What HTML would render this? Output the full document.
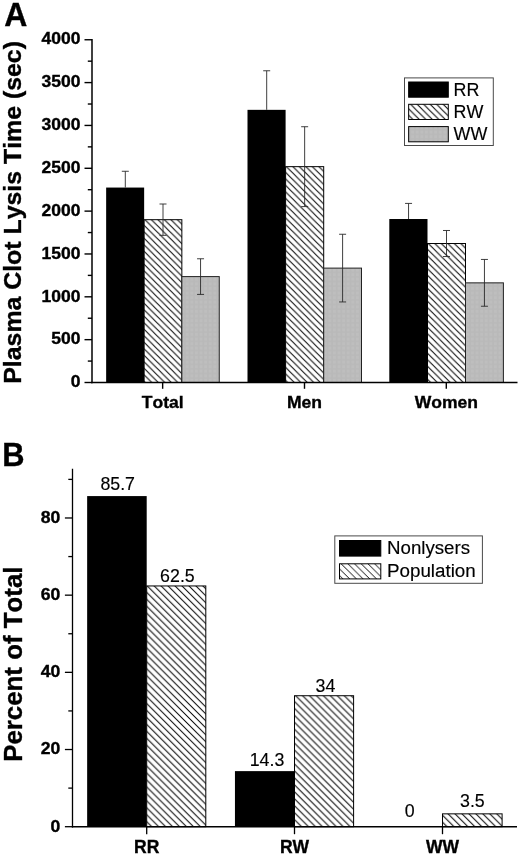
<!DOCTYPE html>
<html><head><meta charset="utf-8"><title>Figure</title>
<style>
html,body{margin:0;padding:0;background:#fff;}
body{width:520px;height:856px;overflow:hidden;font-family:"Liberation Sans",sans-serif;}
svg{display:block;will-change:transform;}
text{-webkit-font-smoothing:antialiased;}
</style></head><body>
<svg width="520" height="856" viewBox="0 0 520 856" font-family="'Liberation Sans', sans-serif" style="font-kerning:none">
<rect width="520" height="856" fill="#fff"/>
<defs>
<pattern id="gA" width="4.6" height="4.6" patternUnits="userSpaceOnUse">
<rect width="4.6" height="4.6" fill="#bebebe"/>
<rect width="1.8" height="4.6" fill="#b9b9b9"/>
<rect width="4.6" height="1.8" fill="#b9b9b9" opacity="0.8"/>
</pattern>
</defs>
<rect x="106.15" y="187.56" width="38.00" height="194.94" fill="#000" stroke="none" stroke-width="0"/>
<pattern id="h1" x="144.95" y="219.69" width="6.5" height="6.5" patternUnits="userSpaceOnUse"><rect width="6.5" height="6.5" fill="#fff"/><path d="M-1.625,-1.625 L8.125,8.125 M-1.625,4.875 L1.625,8.125 M4.875,-1.625 L8.125,1.625" stroke="#000" stroke-width="1.02" fill="none"/></pattern>
<rect x="144.15" y="219.69" width="37.70" height="162.81" fill="url(#h1)" stroke="#000" stroke-width="1.0"/>
<rect x="181.85" y="276.59" width="37.40" height="105.91" fill="url(#gA)" stroke="#222" stroke-width="1.0"/>
<line x1="125.30" y1="171.28" x2="125.30" y2="187.56" stroke="#2a2a2a" stroke-width="0.9"/>
<line x1="121.80" y1="171.28" x2="128.80" y2="171.28" stroke="#2a2a2a" stroke-width="0.9"/>
<line x1="163.00" y1="204.01" x2="163.00" y2="235.37" stroke="#2a2a2a" stroke-width="0.9"/>
<line x1="159.50" y1="204.01" x2="166.50" y2="204.01" stroke="#2a2a2a" stroke-width="0.9"/>
<line x1="159.50" y1="235.37" x2="166.50" y2="235.37" stroke="#2a2a2a" stroke-width="0.9"/>
<line x1="200.55" y1="258.77" x2="200.55" y2="294.41" stroke="#2a2a2a" stroke-width="0.9"/>
<line x1="197.05" y1="258.77" x2="204.05" y2="258.77" stroke="#2a2a2a" stroke-width="0.9"/>
<line x1="197.05" y1="294.41" x2="204.05" y2="294.41" stroke="#2a2a2a" stroke-width="0.9"/>
<rect x="247.50" y="109.84" width="38.10" height="272.66" fill="#000" stroke="none" stroke-width="0"/>
<pattern id="h2" x="286.40" y="166.65" width="6.5" height="6.5" patternUnits="userSpaceOnUse"><rect width="6.5" height="6.5" fill="#fff"/><path d="M-1.625,-1.625 L8.125,8.125 M-1.625,4.875 L1.625,8.125 M4.875,-1.625 L8.125,1.625" stroke="#000" stroke-width="1.02" fill="none"/></pattern>
<rect x="285.60" y="166.65" width="38.10" height="215.85" fill="url(#h2)" stroke="#000" stroke-width="1.0"/>
<rect x="323.70" y="268.11" width="37.80" height="114.39" fill="url(#gA)" stroke="#222" stroke-width="1.0"/>
<line x1="266.70" y1="70.77" x2="266.70" y2="109.84" stroke="#2a2a2a" stroke-width="0.9"/>
<line x1="263.20" y1="70.77" x2="270.20" y2="70.77" stroke="#2a2a2a" stroke-width="0.9"/>
<line x1="304.65" y1="126.72" x2="304.65" y2="206.58" stroke="#2a2a2a" stroke-width="0.9"/>
<line x1="301.15" y1="126.72" x2="308.15" y2="126.72" stroke="#2a2a2a" stroke-width="0.9"/>
<line x1="301.15" y1="206.58" x2="308.15" y2="206.58" stroke="#2a2a2a" stroke-width="0.9"/>
<line x1="342.60" y1="234.26" x2="342.60" y2="301.95" stroke="#2a2a2a" stroke-width="0.9"/>
<line x1="339.10" y1="234.26" x2="346.10" y2="234.26" stroke="#2a2a2a" stroke-width="0.9"/>
<line x1="339.10" y1="301.95" x2="346.10" y2="301.95" stroke="#2a2a2a" stroke-width="0.9"/>
<rect x="389.30" y="219.01" width="38.20" height="163.49" fill="#000" stroke="none" stroke-width="0"/>
<pattern id="h3" x="428.30" y="243.51" width="6.5" height="6.5" patternUnits="userSpaceOnUse"><rect width="6.5" height="6.5" fill="#fff"/><path d="M-1.625,-1.625 L8.125,8.125 M-1.625,4.875 L1.625,8.125 M4.875,-1.625 L8.125,1.625" stroke="#000" stroke-width="1.02" fill="none"/></pattern>
<rect x="427.50" y="243.51" width="38.00" height="138.99" fill="url(#h3)" stroke="#000" stroke-width="1.0"/>
<rect x="465.50" y="282.85" width="37.90" height="99.65" fill="url(#gA)" stroke="#222" stroke-width="1.0"/>
<line x1="408.55" y1="203.41" x2="408.55" y2="219.01" stroke="#2a2a2a" stroke-width="0.9"/>
<line x1="405.05" y1="203.41" x2="412.05" y2="203.41" stroke="#2a2a2a" stroke-width="0.9"/>
<line x1="446.50" y1="230.49" x2="446.50" y2="256.54" stroke="#2a2a2a" stroke-width="0.9"/>
<line x1="443.00" y1="230.49" x2="450.00" y2="230.49" stroke="#2a2a2a" stroke-width="0.9"/>
<line x1="443.00" y1="256.54" x2="450.00" y2="256.54" stroke="#2a2a2a" stroke-width="0.9"/>
<line x1="484.45" y1="259.45" x2="484.45" y2="306.24" stroke="#2a2a2a" stroke-width="0.9"/>
<line x1="480.95" y1="259.45" x2="487.95" y2="259.45" stroke="#2a2a2a" stroke-width="0.9"/>
<line x1="480.95" y1="306.24" x2="487.95" y2="306.24" stroke="#2a2a2a" stroke-width="0.9"/>
<line x1="92.00" y1="39.05" x2="92.00" y2="383.20" stroke="#000" stroke-width="1.5"/>
<line x1="91.25" y1="382.50" x2="517.50" y2="382.50" stroke="#000" stroke-width="1.5"/>
<line x1="84.50" y1="382.50" x2="92.00" y2="382.50" stroke="#000" stroke-width="1.4"/>
<text transform="translate(80.40,387.20) scale(1.075,1.0)" font-size="16.3" font-weight="bold" text-anchor="end" fill="#000" stroke="#000" stroke-width="0.35">0</text>
<line x1="87.80" y1="361.08" x2="92.00" y2="361.08" stroke="#000" stroke-width="1.4"/>
<line x1="84.50" y1="339.66" x2="92.00" y2="339.66" stroke="#000" stroke-width="1.4"/>
<text transform="translate(80.40,344.36) scale(1.075,1.0)" font-size="16.3" font-weight="bold" text-anchor="end" fill="#000" stroke="#000" stroke-width="0.35">500</text>
<line x1="87.80" y1="318.23" x2="92.00" y2="318.23" stroke="#000" stroke-width="1.4"/>
<line x1="84.50" y1="296.81" x2="92.00" y2="296.81" stroke="#000" stroke-width="1.4"/>
<text transform="translate(80.40,301.51) scale(1.075,1.0)" font-size="16.3" font-weight="bold" text-anchor="end" fill="#000" stroke="#000" stroke-width="0.35">1000</text>
<line x1="87.80" y1="275.39" x2="92.00" y2="275.39" stroke="#000" stroke-width="1.4"/>
<line x1="84.50" y1="253.97" x2="92.00" y2="253.97" stroke="#000" stroke-width="1.4"/>
<text transform="translate(80.40,258.67) scale(1.075,1.0)" font-size="16.3" font-weight="bold" text-anchor="end" fill="#000" stroke="#000" stroke-width="0.35">1500</text>
<line x1="87.80" y1="232.55" x2="92.00" y2="232.55" stroke="#000" stroke-width="1.4"/>
<line x1="84.50" y1="211.12" x2="92.00" y2="211.12" stroke="#000" stroke-width="1.4"/>
<text transform="translate(80.40,215.82) scale(1.075,1.0)" font-size="16.3" font-weight="bold" text-anchor="end" fill="#000" stroke="#000" stroke-width="0.35">2000</text>
<line x1="87.80" y1="189.70" x2="92.00" y2="189.70" stroke="#000" stroke-width="1.4"/>
<line x1="84.50" y1="168.28" x2="92.00" y2="168.28" stroke="#000" stroke-width="1.4"/>
<text transform="translate(80.40,172.98) scale(1.075,1.0)" font-size="16.3" font-weight="bold" text-anchor="end" fill="#000" stroke="#000" stroke-width="0.35">2500</text>
<line x1="87.80" y1="146.86" x2="92.00" y2="146.86" stroke="#000" stroke-width="1.4"/>
<line x1="84.50" y1="125.44" x2="92.00" y2="125.44" stroke="#000" stroke-width="1.4"/>
<text transform="translate(80.40,130.14) scale(1.075,1.0)" font-size="16.3" font-weight="bold" text-anchor="end" fill="#000" stroke="#000" stroke-width="0.35">3000</text>
<line x1="87.80" y1="104.02" x2="92.00" y2="104.02" stroke="#000" stroke-width="1.4"/>
<line x1="84.50" y1="82.59" x2="92.00" y2="82.59" stroke="#000" stroke-width="1.4"/>
<text transform="translate(80.40,87.29) scale(1.075,1.0)" font-size="16.3" font-weight="bold" text-anchor="end" fill="#000" stroke="#000" stroke-width="0.35">3500</text>
<line x1="87.80" y1="61.17" x2="92.00" y2="61.17" stroke="#000" stroke-width="1.4"/>
<line x1="84.50" y1="39.75" x2="92.00" y2="39.75" stroke="#000" stroke-width="1.4"/>
<text transform="translate(80.40,44.45) scale(1.075,1.0)" font-size="16.3" font-weight="bold" text-anchor="end" fill="#000" stroke="#000" stroke-width="0.35">4000</text>
<line x1="162.65" y1="382.50" x2="162.65" y2="388.80" stroke="#000" stroke-width="1.4"/>
<text transform="translate(162.65,408.00) scale(1.02,1.0)" font-size="17.2" font-weight="bold" text-anchor="middle" fill="#000" stroke="#000" stroke-width="0.35">Total</text>
<line x1="304.50" y1="382.50" x2="304.50" y2="388.80" stroke="#000" stroke-width="1.4"/>
<text transform="translate(304.50,408.00) scale(1.02,1.0)" font-size="17.2" font-weight="bold" text-anchor="middle" fill="#000" stroke="#000" stroke-width="0.35">Men</text>
<line x1="446.30" y1="382.50" x2="446.30" y2="388.80" stroke="#000" stroke-width="1.4"/>
<text transform="translate(446.30,408.00) scale(1.02,1.0)" font-size="17.2" font-weight="bold" text-anchor="middle" fill="#000" stroke="#000" stroke-width="0.35">Women</text>
<text transform="translate(21.40,212.40) rotate(-90) scale(1.058,1.0)" font-size="23.5" font-weight="bold" text-anchor="middle" fill="#000" stroke="#000" stroke-width="0.35">Plasma Clot Lysis Time (sec)</text>
<text transform="translate(4.30,25.80) scale(0.97,1.0)" font-size="33" font-weight="bold" text-anchor="start" fill="#000" stroke="#000" stroke-width="0.35">A</text>
<rect x="404.50" y="77.90" width="88.80" height="67.60" fill="#fff" stroke="#4a4a4a" stroke-width="1.0"/>
<rect x="408.65" y="82.00" width="39.65" height="15.20" fill="#000" stroke="#000" stroke-width="1.0"/>
<text transform="translate(453.60,95.75)" font-size="17.9" text-anchor="start" fill="#000" stroke="#000" stroke-width="0.15">RR</text>
<pattern id="h4" x="410.65" y="104.30" width="6.5" height="6.5" patternUnits="userSpaceOnUse"><rect width="6.5" height="6.5" fill="#fff"/><path d="M-1.625,-1.625 L8.125,8.125 M-1.625,4.875 L1.625,8.125 M4.875,-1.625 L8.125,1.625" stroke="#000" stroke-width="1.02" fill="none"/></pattern>
<rect x="408.65" y="104.30" width="39.65" height="15.20" fill="url(#h4)" stroke="#000" stroke-width="1.0"/>
<text transform="translate(453.60,118.05)" font-size="17.9" text-anchor="start" fill="#000" stroke="#000" stroke-width="0.15">RW</text>
<rect x="408.65" y="126.60" width="39.65" height="15.20" fill="url(#gA)" stroke="#000" stroke-width="1.0"/>
<text transform="translate(453.60,140.35)" font-size="17.9" text-anchor="start" fill="#000" stroke="#000" stroke-width="0.15">WW</text>
<rect x="87.15" y="496.08" width="59.55" height="330.62" fill="#000" stroke="none" stroke-width="0"/>
<pattern id="h5" x="147.30" y="585.95" width="6.95" height="6.95" patternUnits="userSpaceOnUse"><rect width="6.95" height="6.95" fill="#fff"/><path d="M-1.7375,-1.7375 L8.6875,8.6875 M-1.7375,5.2125 L1.7375,8.6875 M5.2125,-1.7375 L8.6875,1.7375" stroke="#000" stroke-width="1.0" fill="none"/></pattern>
<rect x="146.70" y="585.95" width="59.10" height="240.75" fill="url(#h5)" stroke="#000" stroke-width="1.0"/>
<rect x="234.95" y="771.12" width="59.55" height="55.58" fill="#000" stroke="none" stroke-width="0"/>
<pattern id="h6" x="295.70" y="695.73" width="6.95" height="6.95" patternUnits="userSpaceOnUse"><rect width="6.95" height="6.95" fill="#fff"/><path d="M-1.7375,-1.7375 L8.6875,8.6875 M-1.7375,5.2125 L1.7375,8.6875 M5.2125,-1.7375 L8.6875,1.7375" stroke="#000" stroke-width="1.0" fill="none"/></pattern>
<rect x="294.50" y="695.73" width="59.10" height="130.97" fill="url(#h6)" stroke="#000" stroke-width="1.0"/>
<pattern id="h7" x="441.20" y="813.85" width="6.95" height="6.95" patternUnits="userSpaceOnUse"><rect width="6.95" height="6.95" fill="#fff"/><path d="M-1.7375,-1.7375 L8.6875,8.6875 M-1.7375,5.2125 L1.7375,8.6875 M5.2125,-1.7375 L8.6875,1.7375" stroke="#000" stroke-width="1.0" fill="none"/></pattern>
<rect x="442.50" y="813.85" width="59.60" height="12.85" fill="url(#h7)" stroke="#000" stroke-width="1.0"/>
<text transform="translate(117.70,490.30)" font-size="17.8" text-anchor="middle" fill="#000" stroke="#000" stroke-width="0.15">85.7</text>
<text transform="translate(177.40,581.50)" font-size="17.8" text-anchor="middle" fill="#000" stroke="#000" stroke-width="0.15">62.5</text>
<text transform="translate(267.00,765.80)" font-size="17.8" text-anchor="middle" fill="#000" stroke="#000" stroke-width="0.15">14.3</text>
<text transform="translate(325.50,691.50)" font-size="17.8" text-anchor="middle" fill="#000" stroke="#000" stroke-width="0.15">34</text>
<text transform="translate(409.70,816.90)" font-size="17.8" text-anchor="middle" fill="#000" stroke="#000" stroke-width="0.15">0</text>
<text transform="translate(472.40,807.30)" font-size="17.8" text-anchor="middle" fill="#000" stroke="#000" stroke-width="0.15">3.5</text>
<line x1="72.50" y1="468.70" x2="72.50" y2="827.50" stroke="#000" stroke-width="1.3"/>
<line x1="71.85" y1="826.70" x2="517.00" y2="826.70" stroke="#000" stroke-width="1.6"/>
<line x1="64.90" y1="826.70" x2="72.50" y2="826.70" stroke="#000" stroke-width="1.3"/>
<text transform="translate(60.20,831.60) scale(1.08,1.0)" font-size="16.3" font-weight="bold" text-anchor="end" fill="#000" stroke="#000" stroke-width="0.35">0</text>
<line x1="68.30" y1="788.11" x2="72.50" y2="788.11" stroke="#000" stroke-width="1.3"/>
<line x1="64.90" y1="749.52" x2="72.50" y2="749.52" stroke="#000" stroke-width="1.3"/>
<text transform="translate(60.20,754.42) scale(1.08,1.0)" font-size="16.3" font-weight="bold" text-anchor="end" fill="#000" stroke="#000" stroke-width="0.35">20</text>
<line x1="68.30" y1="710.93" x2="72.50" y2="710.93" stroke="#000" stroke-width="1.3"/>
<line x1="64.90" y1="672.34" x2="72.50" y2="672.34" stroke="#000" stroke-width="1.3"/>
<text transform="translate(60.20,677.24) scale(1.08,1.0)" font-size="16.3" font-weight="bold" text-anchor="end" fill="#000" stroke="#000" stroke-width="0.35">40</text>
<line x1="68.30" y1="633.75" x2="72.50" y2="633.75" stroke="#000" stroke-width="1.3"/>
<line x1="64.90" y1="595.16" x2="72.50" y2="595.16" stroke="#000" stroke-width="1.3"/>
<text transform="translate(60.20,600.06) scale(1.08,1.0)" font-size="16.3" font-weight="bold" text-anchor="end" fill="#000" stroke="#000" stroke-width="0.35">60</text>
<line x1="68.30" y1="556.57" x2="72.50" y2="556.57" stroke="#000" stroke-width="1.3"/>
<line x1="64.90" y1="517.98" x2="72.50" y2="517.98" stroke="#000" stroke-width="1.3"/>
<text transform="translate(60.20,522.88) scale(1.08,1.0)" font-size="16.3" font-weight="bold" text-anchor="end" fill="#000" stroke="#000" stroke-width="0.35">80</text>
<line x1="68.30" y1="479.39" x2="72.50" y2="479.39" stroke="#000" stroke-width="1.3"/>
<line x1="146.70" y1="826.70" x2="146.70" y2="834.20" stroke="#000" stroke-width="1.3"/>
<text transform="translate(146.70,853.20)" font-size="17.5" font-weight="bold" text-anchor="middle" fill="#000" stroke="#000" stroke-width="0.35">RR</text>
<line x1="294.50" y1="826.70" x2="294.50" y2="834.20" stroke="#000" stroke-width="1.3"/>
<text transform="translate(294.50,853.20)" font-size="17.5" font-weight="bold" text-anchor="middle" fill="#000" stroke="#000" stroke-width="0.35">RW</text>
<line x1="442.50" y1="826.70" x2="442.50" y2="834.20" stroke="#000" stroke-width="1.3"/>
<text transform="translate(442.50,853.20)" font-size="17.5" font-weight="bold" text-anchor="middle" fill="#000" stroke="#000" stroke-width="0.35">WW</text>
<text transform="translate(22.00,664.20) rotate(-90) scale(1.022,1.0)" font-size="25.3" font-weight="bold" text-anchor="middle" fill="#000" stroke="#000" stroke-width="0.35">Percent of Total</text>
<text transform="translate(2.20,465.80) scale(0.93,1.0)" font-size="33.2" font-weight="bold" text-anchor="start" fill="#000" stroke="#000" stroke-width="0.35">B</text>
<rect x="334.80" y="535.90" width="147.60" height="47.40" fill="#fff" stroke="#4a4a4a" stroke-width="1.0"/>
<rect x="339.50" y="540.50" width="41.30" height="15.60" fill="#000" stroke="#000" stroke-width="1.0"/>
<pattern id="h8" x="341.20" y="563.80" width="6.7" height="6.7" patternUnits="userSpaceOnUse"><rect width="6.7" height="6.7" fill="#fff"/><path d="M-1.675,-1.675 L8.375,8.375 M-1.675,5.025 L1.675,8.375 M5.025,-1.675 L8.375,1.675" stroke="#000" stroke-width="0.95" fill="none"/></pattern>
<rect x="339.50" y="563.80" width="41.30" height="15.10" fill="url(#h8)" stroke="#000" stroke-width="1.0"/>
<text transform="translate(387.00,554.20)" font-size="18.7" text-anchor="start" fill="#000" stroke="#000" stroke-width="0.15">Nonlysers</text>
<text transform="translate(387.00,577.40)" font-size="18.8" text-anchor="start" fill="#000" stroke="#000" stroke-width="0.15">Population</text>
</svg>
</body></html>
